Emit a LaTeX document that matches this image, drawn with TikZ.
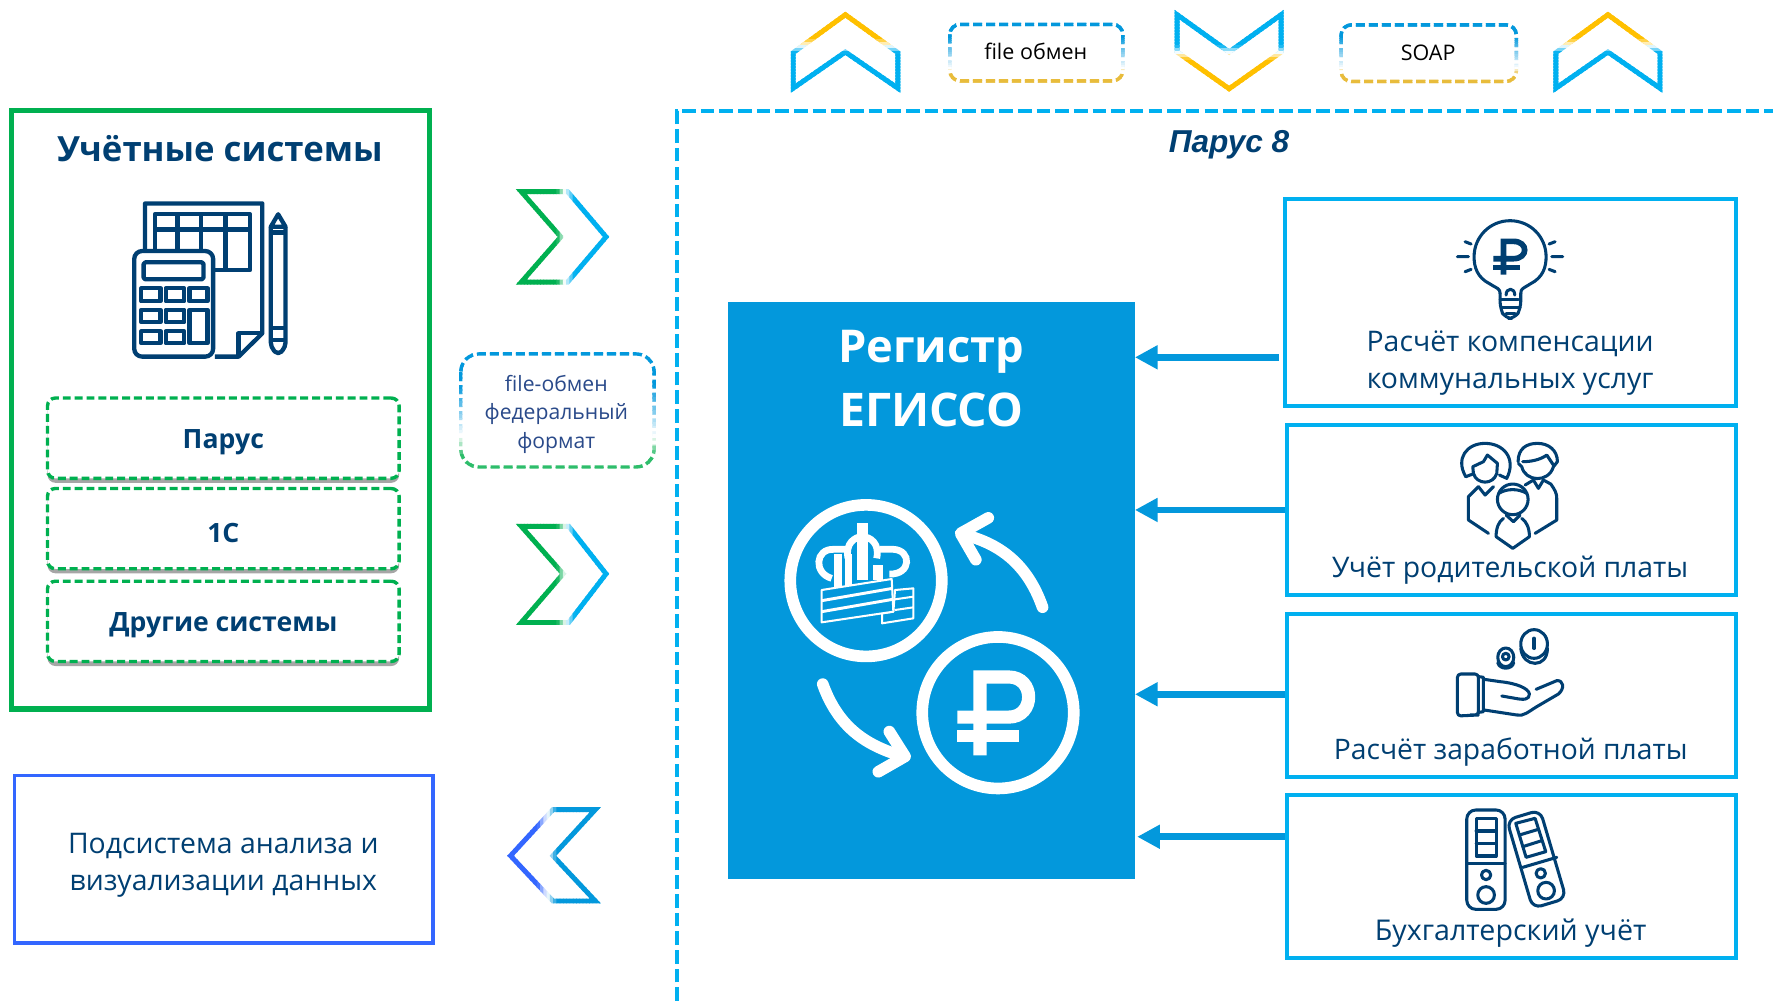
\documentclass[tikz,border=0pt]{standalone}
\usepackage{fontspec}
\setmainfont{Open Sans}
\newfontfamily\arialf{Liberation Sans}
\usetikzlibrary{arrows.meta,shadows}
\definecolor{navy}{HTML}{003F72}
\definecolor{cgreen}{HTML}{00B050}
\definecolor{cyanb}{HTML}{00B0F0}
\definecolor{regblue}{HTML}{0398DC}
\definecolor{royal}{HTML}{3366FF}
\definecolor{amber}{HTML}{FFC000}
\definecolor{dashy}{HTML}{E8BC3C}
\definecolor{dashg}{HTML}{2EBD6B}
\definecolor{fedtext}{HTML}{2A4A8A}
% sliced gradient stroke: [V|H] from, to, colour A, colour B, s1, s2, s3, [style] path
\newcommand{\gradpath}[9][V]{%
  \foreach \gi in {0,...,29}{%
    \pgfmathsetmacro\gt{(\gi+.5)/30}%
    \pgfmathsetmacro\ga{#2+(#3-#2)*\gi/30-.3}%
    \pgfmathsetmacro\gb{#2+(#3-#2)*(\gi+1)/30+.3}%
    \pgfmathsetmacro\pa{min(100,max(0,100*(#7-\gt)/(#7-#6)))}%
    \pgfmathsetmacro\pb{min(100,max(0,100*(\gt-#7)/(#8-#7)))}%
    \ifdim\gt pt<#7pt\colorlet{gc}{#4!\pa!white}\else\colorlet{gc}{#5!\pb!white}\fi
    \begin{scope}
      \if#1V\clip (-50,\ga) rectangle (2000,\gb);\else\clip (\ga,-50) rectangle (\gb,1200);\fi
      \draw[gc] #9;
    \end{scope}}}
\tikzset{
  lbl/.style={text=navy,font=\fontsize{25.3}{30}\selectfont,inner sep=0pt},
  sublbl/.style={text=navy,font=\fontsize{23.5}{28}\selectfont\bfseries,inner sep=0pt},
  fedlbl/.style={text=fedtext,font=\fontsize{18.7}{25.5}\selectfont,align=center,inner sep=0pt},
  toplbl/.style={text=black,font=\fontsize{19}{24}\selectfont,inner sep=0pt},
  bigbox/.style={draw=cgreen,line width=4.5pt,inner sep=0pt},
  subbox/.style={draw=cgreen,line width=3pt,dash pattern=on 7pt off 3.5pt,rounded corners=7pt,fill=white,
     minimum width=311pt,minimum height=71pt,inner sep=0pt,
     drop shadow={shadow xshift=0pt,shadow yshift=-4pt,opacity=.35,fill=black}},
  rightbox/.style={draw=cyanb,line width=3.5pt,inner sep=0pt},
  anabox/.style={draw=royal,line width=3pt,inner sep=0pt},
  regbox/.style={fill=regblue,inner sep=0pt},
  flowarrow/.style={regblue,line width=6pt,-{Triangle[length=20pt,width=20pt]}},
  navyicon/.style={draw=navy,line width=3.8pt,line join=round},
  thinicon/.style={draw=navy,line width=2.7pt,line cap=round,line join=round},
  whiteline/.style={draw=white,line width=10.3pt,line cap=round,line join=round},
  chev/.style={line width=4.3pt,miter limit=10},
  dashround/.style={line width=3pt,dash pattern=on 8pt off 3.5pt,rounded corners=#1}
}
\begin{document}
\begin{tikzpicture}[x=1pt,y=-1pt]
\useasboundingbox[fill=white] (0,0) rectangle (1568,885.25);

% Parus 8 frame
\coordinate (frameBL) at (598.5,885.25);
\coordinate (frameTL) at (598.5,98);
\coordinate (frameTR) at (1568,98);
\draw[cyanb,line width=3.8pt,dash pattern=on 12pt off 4.5pt] (frameBL) -- (frameTL) -- (frameTR);
\node[inner sep=0pt,text=navy,font=\arialf\fontsize{28}{30}\selectfont\bfseries\itshape] (parus8) at (1087,128) {Парус 8};

% Left: accounting systems
\node[bigbox,minimum width=370pt,minimum height=529pt] (acc) at (195,362.5) {};
\node[inner sep=0pt,text=navy,font=\fontsize{30.7}{36}\selectfont\bfseries] (acctitle) at (194.5,131) {Учётные системы};
% calculator icon
\begin{scope}[navyicon]
  \draw (190,315.4) -- (211,315.4) -- (232,294.8) -- (232,179.9) -- (128.3,179.9) -- (128.3,220);
  \draw (211,315.4) -- (211,294.8) -- (232,294.8);
  \draw (137,220) -- (137,189.5) -- (221,189.5) -- (221,239) -- (190,239);
  \draw (137,203) -- (221,203);
  \draw (157,189.5) -- (157,220) (178,189.5) -- (178,220) (199.5,189.5) -- (199.5,239);
  \draw[rounded corners=7pt] (118.7,222) rectangle (188.5,315.4);
  \draw[rounded corners=1.5pt] (127,232) rectangle (180,247);
  \foreach \yy/\yz in {255/266.5,274/285,293/303.5}{
    \draw (125,\yy) rectangle (142,\yz);
    \draw (146.5,\yy) rectangle (163,\yz);
  }
  \draw (167.5,255) rectangle (183.5,266.5);
  \draw (167.5,274) rectangle (183.5,303.5);
  \draw[rounded corners=4pt] (239.5,200.5) -- (239.5,307) -- (246,314) -- (252.5,307) -- (252.5,200.5);
  \draw (239.5,200.5) -- (246,189.5) -- (252.5,200.5) -- cycle;
  \draw (239.5,205.5) -- (252.5,205.5) (239.5,290) -- (252.5,290) (239.5,300.5) -- (252.5,300.5);
\end{scope}
\node[subbox] (sys1) at (197.5,387.5) {};
\node[subbox] (sys2) at (197.5,467.5) {};
\node[subbox] (sys3) at (197.5,549.5) {};
\node[sublbl] (sys1t) at (197.5,391) {Парус};
\node[sublbl] (sys2t) at (197.5,471.5) {1С};
\node[sublbl] (sys3t) at (197.5,553) {Другие системы};

% Analysis box
\node[anabox,minimum width=370pt,minimum height=148pt] (ana) at (198,760) {};
\node[lbl,align=center,font=\fontsize{25.1}{33}\selectfont] (anat) at (197.5,765) {Подсистема анализа и\\визуализации данных};

% Left chevrons
\gradpath[H]{455}{541}{cgreen}{cyanb}{.44}{.52}{.62}{[chev] (461,169.5) -- (502,169.5) -- (536,209.5) -- (502,249.5) -- (461,249.5) -- (496,209.5) -- cycle}
\gradpath[H]{455}{541}{cgreen}{cyanb}{.44}{.53}{.62}{[chev] (461,465.5) -- (503,465.5) -- (536,507.5) -- (503,550.5) -- (461,550.5) -- (498,507.5) -- cycle}
\gradpath[H]{446}{533}{royal}{regblue}{.34}{.44}{.54}{[chev] (451.5,756.8) -- (489,716) -- (526.5,716) -- (489,756.8) -- (526.5,796.8) -- (489,796.8) -- cycle}

% federal-format box
\gradpath[V]{309}{417}{regblue}{dashg}{.30}{.72}{.88}{[dashround=16pt] (407.5,313) rectangle (578.5,413)}
\node[fedlbl] (fed) at (492,366.5) {file-обмен\\федеральный\\формат};

% Top chevrons and boxes
\gradpath[V]{6}{86}{amber}{cyanb}{.36}{.44}{.52}{[chev] (747.6,13) -- (794,46.5) -- (794,78) -- (747.6,46) -- (701.5,78) -- (701.5,46.5) -- cycle}
\gradpath[V]{6}{86}{cyanb}{amber}{.44}{.52}{.60}{[chev] (1087,46) -- (1133,13) -- (1133,46) -- (1087,78.5) -- (1041,46) -- (1041,13) -- cycle}
\gradpath[V]{6}{86}{amber}{cyanb}{.36}{.44}{.52}{[chev] (1422,13) -- (1468,46.5) -- (1468,78) -- (1422,46) -- (1376,78) -- (1376,46.5) -- cycle}
\gradpath[V]{19}{75}{regblue}{dashy}{.25}{.75}{.85}{[dashround=9pt] (840,21.5) rectangle (993,71.5)}
\gradpath[V]{19}{75}{regblue}{dashy}{.25}{.75}{.85}{[dashround=9pt] (1186,22) rectangle (1341,72)}
\node[toplbl] (fileobm) at (916,45.5) {file обмен};
\node[toplbl] (soap) at (1263,46.5) {SOAP};

% Register
\node[regbox,minimum width=359.5pt,minimum height=510pt] (reg) at (823.75,522) {};
\node[inner sep=0pt,text=white,font=\fontsize{40}{44}\selectfont\bfseries] (regt1) at (823.5,311) {Регистр};
\node[inner sep=0pt,text=white,font=\fontsize{41}{44}\selectfont\bfseries] (regt2) at (823.5,362.5) {ЕГИССО};
\draw[white,line width=10.3pt] (765.9,513.5) circle[radius=67];
\draw[white,line width=10.3pt] (882.6,630.3) circle[radius=67];
\draw[whiteline] (922,537) .. controls (908,497) and (882,480) .. (851,472.5);
\draw[whiteline] (874,458) -- (849.5,471.7) -- (863,495);
\draw[whiteline] (727.6,605) .. controls (742,645) and (768,660) .. (799,669);
\draw[whiteline] (786.5,647) -- (800.4,669) -- (776.8,682.5);
% rouble
\draw[white,line width=11.6pt] (866.7,668) -- (866.7,598.7) -- (892,598.7) .. controls (915.6,598.7) and (915.6,634.2) .. (892,634.2) -- (846.7,634.2);
\draw[white,line width=10.5pt] (846.7,651) -- (901.5,651);
% PFR emblem
\begin{scope}[shift={(645.6,424.5)},x=.2948pt,y=-.2948pt]
  \draw[white,line width=6pt] (305,295) .. controls (250,280) and (255,205) .. (312,208) -- (350,208);
  \draw[white,line width=6pt] (450,208) -- (490,208) .. controls (545,210) and (545,285) .. (478,282);
  \draw[white,line width=6pt] (354,235) .. controls (345,190) and (375,170) .. (397,170) .. controls (420,170) and (450,190) .. (440,235);
  \fill[white] (382,130) rectangle (414,300);
  \fill[white] (312,222) rectangle (335,325);
  \fill[white] (345,222) rectangle (367,320);
  \fill[white] (430,255) rectangle (458,300);
  \draw[regblue,line width=1pt] (378,195) -- (378,235);
  \draw[white,line width=1.8pt,fill=regblue,line join=round] (495,330) -- (550,325) -- (550,415) -- (456,430) -- (456,400) -- (490,395) -- cycle;
  \draw[white,line width=1.8pt,fill=regblue,line join=round] (275,330) -- (485,297) -- (490,395) -- (275,427) -- cycle;
  \draw[white,line width=2.6pt] (275,362) -- (488,325) (275,395) -- (488,358);
  \draw[white,line width=1.8pt] (495,358) -- (550,350) (495,390) -- (550,382);
\end{scope}

% Right boxes
\node[rightbox,minimum width=399pt,minimum height=183pt] (b1) at (1335.5,267.5) {};
\node[rightbox,minimum width=397pt,minimum height=150pt] (b2) at (1336.5,451) {};
\node[rightbox,minimum width=397pt,minimum height=144pt] (b3) at (1336.5,615) {};
\node[rightbox,minimum width=397pt,minimum height=144pt] (b4) at (1336.5,775) {};
\node[lbl,align=center,font=\fontsize{25.1}{33}\selectfont] (b1t) at (1335.5,321) {Расчёт компенсации\\коммунальных услуг};
\node[lbl,font=\fontsize{25.1}{30}\selectfont] (b2t) at (1335.5,504.5) {Учёт родительской платы};
\node[lbl,font=\fontsize{25}{30}\selectfont] (b3t) at (1336,665.5) {Расчёт заработной платы};
\node[lbl] (b4t) at (1336,825.5) {Бухгалтерский учёт};

% Arrows
\coordinate (a1) at (1070,316);
\coordinate (a2) at (1070,451);
\coordinate (a3) at (1070,614);
\coordinate (a4) at (1070,740);
\draw[flowarrow,shorten <=3pt] (b1.west |- a1) -- (reg.east |- a1);
\draw[flowarrow] (b2.west |- a2) -- (reg.east |- a2);
\draw[flowarrow] (b3.west |- a3) -- (reg.east |- a3);
\draw[flowarrow] (b4.west |- a4) -- ([xshift=2pt]reg.east |- a4);

% Bulb + family icons
\begin{scope}[shift={(1238.2,176.9)},x=.2948pt,y=-.2948pt]
  \begin{scope}[thinicon]
  \draw (300,280) .. controls (300,265) and (290,265) .. (270,252) .. controls (230,232) and (222,200) .. (222,170) .. controls (222,110) and (270,62) .. (330,62) .. controls (390,62) and (438,110) .. (438,170) .. controls (438,200) and (430,232) .. (390,252) .. controls (370,265) and (362,265) .. (362,280);
  \draw[rounded corners=6pt] (300,280) -- (300,325) -- (315,355) -- (345,355) -- (362,325) -- (362,280);
  \draw (318,285) .. controls (318,262) and (344,262) .. (344,285);
  \draw (300,298) -- (355,298) (305,322) -- (360,322) (318,340) -- (345,340);
  \draw (172,170) -- (205,170) (195,125) -- (213,132) (195,215) -- (213,208);
  \draw (488,170) -- (455,170) (465,125) -- (447,132) (465,215) -- (447,208);
  \end{scope}
  \draw[navy,line width=5pt] (310,224) -- (310,124) -- (340,124) .. controls (385,124) and (385,176) .. (340,176) -- (280,176);
  \draw[navy,line width=4.5pt] (280,202) -- (360,202);
  \begin{scope}[thinicon]
  % woman
  \draw (197,830) .. controls (165,775) and (200,730) .. (255,730) .. controls (310,730) and (350,775) .. (320,835) -- (298,825);
  \draw (197,830) -- (218,822);
  \draw (218,800) -- (250,785) -- (262,765) -- (292,790) -- (290,820) .. controls (280,855) and (230,855) .. (220,820) -- cycle;
  \draw (235,860) -- (255,885) -- (280,860);
  \draw (235,860) -- (205,890) -- (205,960) -- (265,1000);
  % man
  \draw (412,785) +(-58,0) .. controls (354,745) and (380,730) .. (412,730) .. controls (445,730) and (472,750) .. (472,785);
  \draw (355,790) -- (365,800) .. controls (375,845) and (445,850) .. (460,800) -- (472,785);
  \draw (368,785) .. controls (390,785) and (420,780) .. (440,765) -- (460,795);
  \draw (375,855) -- (400,840) -- (415,865) -- (430,840) -- (452,852) .. controls (465,870) and (470,880) .. (470,895) -- (470,960) -- (405,1000);
  % child
  \draw (338,898) circle[radius=46];
  \draw (296,880) .. controls (320,865) and (355,865) .. (380,880);
  \draw (318,945) -- (340,965) -- (360,945);
  \draw (310,955) .. controls (295,965) and (288,985) .. (288,1010) -- (338,1045) -- (388,1010) .. controls (388,985) and (380,965) .. (365,955);
  \end{scope}
\end{scope}

% Hand + binders icons
\begin{scope}[shift={(1238.2,548.3)},x=.2948pt,y=-.2948pt,thinicon]
  \draw (402,72) ellipse[x radius=40,y radius=43];
  \draw (362,85) .. controls (365,115) and (385,130) .. (405,130) .. controls (425,130) and (442,115) .. (442,85);
  \draw[line width=3pt] (402,55) -- (402,85);
  \draw (317,112) ellipse[x radius=24,y radius=28];
  \draw (317,110) circle[radius=10];
  \draw (293,128) .. controls (298,150) and (336,150) .. (341,128);
  \draw[rounded corners=3pt] (235,285) -- (172,288) -- (172,162) -- (235,162) -- (235,285) -- (210,285);
  \draw (237,170) -- (250,172) -- (250,275) -- (237,277);
  \draw (252,178) -- (300,185) .. controls (350,190) and (385,205) .. (388,222) .. controls (388,240) and (370,240) .. (345,235) -- (305,228);
  \draw (252,270) -- (350,285) .. controls (370,290) and (385,275) .. (410,260) -- (475,222) .. controls (495,205) and (490,180) .. (470,182) -- (408,208);
  % binders
  \draw[rounded corners=8pt] (200,570) rectangle (315,868);
  \draw (200,730) -- (315,730);
  \draw (228,595) rectangle (288,708);
  \draw (228,633) -- (288,633) (228,670) -- (288,670);
  \draw (258,765) circle[radius=14];
  \draw (258,825) circle[radius=25];
  \draw[rounded corners=8pt] (320,600) -- (420,570) -- (498,835) -- (398,865) -- cycle;
  \draw (368,742) -- (470,712);
  \draw (347,610) -- (405,595) -- (437,695) -- (378,712) -- cycle;
  \draw (358,645) -- (415,628) (368,680) -- (425,662);
  \draw (422,760) circle[radius=14];
  \draw (438,812) circle[radius=25];
\end{scope}
\end{tikzpicture}
\end{document}
